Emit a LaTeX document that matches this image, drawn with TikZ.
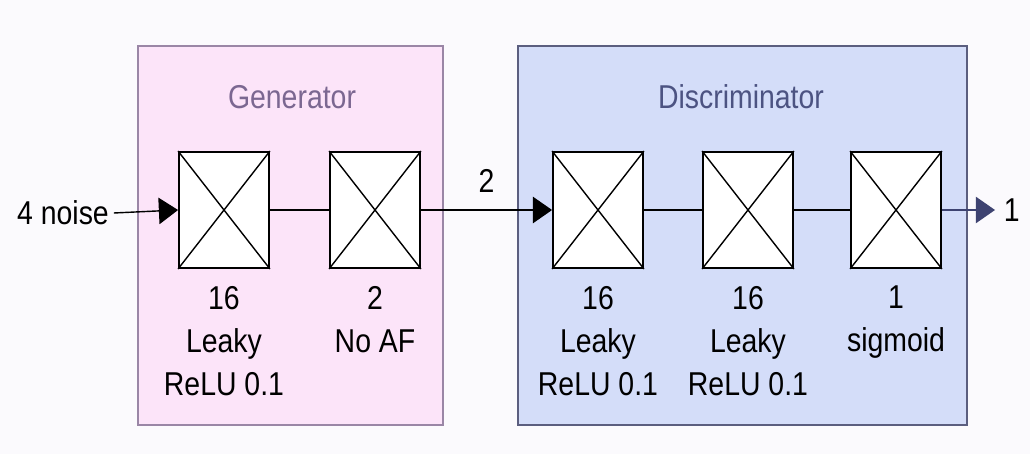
\documentclass[tikz,border=0pt]{standalone}
\usepackage{fontspec}
\setmainfont[FakeStretch=0.86]{Liberation Sans}
\usepackage{tikz}
\usetikzlibrary{arrows.meta}
\usetikzlibrary{positioning}

\definecolor{bgcol}{HTML}{FBFAFD}
\definecolor{genfill}{HTML}{FCE4F9}
\definecolor{gendraw}{HTML}{9A86A6}
\definecolor{gentext}{HTML}{7B6791}
\definecolor{discfill}{HTML}{D4DDF9}
\definecolor{discdraw}{HTML}{5B5E7F}
\definecolor{disctext}{HTML}{4C5382}
\definecolor{outcol}{HTML}{3E4371}

\begin{document}
\begin{tikzpicture}[x=0.025cm,y=0.025cm,font=\fontsize{23.5}{30.6}\selectfont,
  layer/.style={draw,fill=white,line width=1.3pt,minimum width=2.25cm,minimum height=2.9cm,inner sep=0},
  layerinfo/.style={align=center,inner sep=0,anchor=north},
  flow/.style={line width=1pt,-{Triangle[length=0.48cm,width=0.66cm]}}]
  \useasboundingbox[fill=bgcol] (0,0) rectangle (1030,454);
  %generator
  \draw[fill=genfill,draw=gendraw,line width=1pt] (138,29) rectangle (443,408);
  \node[text=gentext] (gentitle) at (292,357) {Generator};
  \node[layer] (g1) at (224,244) {};
  \node[layer] (g2) at (375,244) {};
  \node[layerinfo,below=0.42cm of g1] (g1info) {16\\Leaky\\ReLU 0.1};
  \node[layerinfo,below=0.42cm of g2] (g2info) {2\\No AF};
  %discriminator
  \draw[fill=discfill,draw=discdraw,line width=1pt] (518,29) rectangle (967,408);
  \node[text=disctext] (disctitle) at (741,357) {Discriminator};
  \node[layer] (d1) at (598,244) {};
  \node[layer] (d2) at (748,244) {};
  \node[layer] (d3) at (896,244) {};
  \node[layerinfo,below=0.42cm of d1] (d1info) {16\\Leaky\\ReLU 0.1};
  \node[layerinfo,below=0.42cm of d2] (d2info) {16\\Leaky\\ReLU 0.1};
  \node[layerinfo,below=0.42cm of d3] (d3info) {1\\sigmoid};
  %crosses
  \foreach \n in {g1,g2,d1,d2,d3}
    \draw[line width=1pt] (\n.north west) -- (\n.south east) (\n.south west) -- (\n.north east);
  %connectors
  \node (noise) at (63,241) {4 noise};
  \draw[flow] (noise.east) -- (g1.west);
  \draw[line width=1pt] (g1.east) -- (g2.west);
  \draw[flow] (g2.east) -- node[above=0.3cm] (mid) {2} (d1.west);
  \draw[line width=1pt] (d1.east) -- (d2.west);
  \draw[line width=1pt] (d2.east) -- (d3.west);
  \coordinate (out) at (995,244);
  \draw[flow,draw=outcol,fill=outcol] (d3.east) -- (out);
  \node[right=0.1cm of out] (outlabel) {1};
\end{tikzpicture}
\end{document}
